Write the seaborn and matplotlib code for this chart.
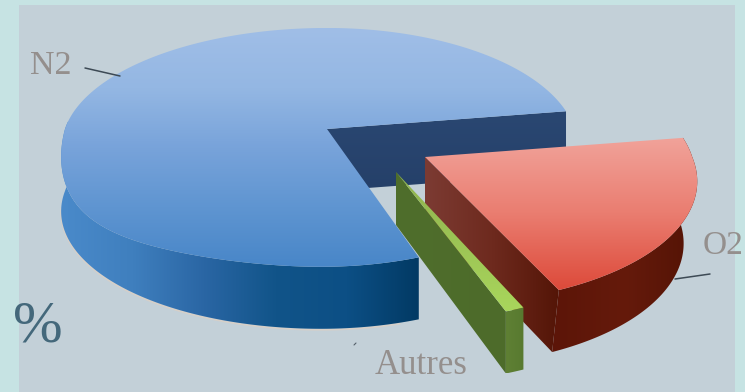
import numpy as np
import matplotlib
matplotlib.use("Agg")
import matplotlib.pyplot as plt
from matplotlib.patches import Polygon, Rectangle
import seaborn as sns

# Composition of air, in percent
gases = ["N2", "O2", "Autres"]
shares = [78, 21, 1]

sns.set_theme(style="white")
plt.rcParams["font.family"] = ["Liberation Serif", "DejaVu Serif"]

W, H = 745, 392
START = -9.0
RX, RY, TILT = 262.0, 116.0, 0.148
DEPTH = 62

# Per-slice drawing style: apex in pixels, radius scales, near-side lean,
# sag of the front-left edge, width of the lower edge, depth at the apex, colour ramps
STYLE = {
    "N2": dict(apex=(327, 129), left=1.0, right=0.945, far=1.0, near=1.012, lean=-6,
               sag=46, base=1.0, apex_depth=62,
               top=["#a0bee7", "#94b7e3", "#78a3da", "#5f95d1", "#4886c8"],
               rim=["#4a8aca", "#3f7fbe", "#2a66a4", "#115489", "#0c4f85", "#023a64"],
               wall=["#2a4772", "#254069"]),
    "O2": dict(apex=(425, 157), left=1.02, right=1.02, far=1.08, near=1.08, lean=12,
               sag=0, base=0.95, apex_depth=62,
               top=["#f1a39a", "#ea7d70", "#dd4a3a"],
               rim=["#531305", "#651a0b", "#5c1508"],
               wall=["#7c3b33", "#6e2a1e", "#541507"]),
    "Autres": dict(apex=(396, 172), left=1.02, right=1.02, far=1.1, near=1.1, lean=5,
                   sag=0, base=1.0, apex_depth=53,
                   top=["#8fb24e", "#a9d65c"],
                   rim=["#5f8034", "#587a30"],
                   wall=["#4f6e2c", "#4d6b2a"]),
}


def project(deg, st, drop=0.0):
    """Map disc angles to pixels with a simple perspective toward the viewer.

    A non-zero drop gives the lower edge of the slice, which is narrower and
    does not sag the way the top edge does.
    """
    t = np.radians(np.atleast_1d(deg))
    u, v = np.cos(t), np.sin(t)
    w = 1 - TILT * v
    x_scale = np.where(u < 0, st["left"], st["right"])
    y_scale = np.where(v < 0, st["far"], st["near"])
    x = x_scale * RX * u / w + st["lean"] * np.clip(v, 0, None)
    y = y_scale * RY * v / w + drop
    if drop:
        x = x * st["base"]
    else:
        y = y + st["sag"] * np.clip(-u, 0, None) ** 3 * np.clip(v, 0, None)
    return np.column_stack([x + st["apex"][0], y + st["apex"][1]])


def paint(ax, pts, colors, vertical, z):
    """Fill a polygon with a linear colour ramp."""
    pts = np.asarray(pts)
    x0, y0 = pts.min(axis=0)
    x1, y1 = pts.max(axis=0)
    ramp = np.linspace(0, 1, 256)
    ramp = ramp[:, None] if vertical else ramp[None, :]
    cmap = sns.blend_palette(colors, as_cmap=True)
    im = ax.imshow(ramp, cmap=cmap, extent=(x0, x1, y1, y0), origin="upper",
                   aspect="auto", zorder=z, interpolation="bilinear")
    clip = Polygon(pts, closed=True, transform=ax.transData)
    im.set_clip_path(clip)


def cut_wall(st, deg):
    """Corners of the flat face running from the apex out to the rim."""
    apex = np.array(st["apex"], float)
    return [apex, project(deg, st)[0], project(deg, st, DEPTH)[0], apex + [0, st["apex_depth"]]]


fig = plt.figure(figsize=(W / 100, H / 100), dpi=100, facecolor="#c6e3e3")
ax = fig.add_axes([0, 0, 1, 1])
ax.axis("off")
ax.add_patch(Rectangle((18.5, 5), 716.5, H, facecolor="#c3d0d8", edgecolor="none", zorder=0))

# Slice angles follow the shares, clockwise on screen from the O2 edge
spans = {}
angle = START
for name in ["O2", "Autres", "N2"]:
    sweep = shares[gases.index(name)] * 3.6
    spans[name] = (angle, angle + sweep)
    angle += sweep

# N2: inner cut wall, front rim, then the top face
st = STYLE["N2"]
a0, a1 = spans["N2"]
apex = np.array(st["apex"], float)
paint(ax, cut_wall(st, a1), st["wall"], True, 1)
front = np.linspace(a0, 184, 160)
# A faint warm edge under the rim
halo = project(np.linspace(a0 + 4, 172, 120), st, DEPTH + 1)
ax.plot(halo[:, 0], halo[:, 1], color="#d6cfc8", lw=1.2, zorder=1.5)
paint(ax, np.vstack([project(front, st), project(front[::-1], st, DEPTH)]), st["rim"], False, 2)
arc = np.linspace(a0, a1, 400)
paint(ax, np.vstack([apex, project(arc, st)]), st["top"], True, 3)

# O2: cut wall facing the viewer, rim, top face
st = STYLE["O2"]
a0, a1 = spans["O2"]
apex = np.array(st["apex"], float)
paint(ax, cut_wall(st, a1), st["wall"], False, 4)
arc = np.linspace(a0, a1, 120)
paint(ax, np.vstack([project(arc, st), project(arc[::-1], st, DEPTH)]), st["rim"][::-1], False, 5)
paint(ax, np.vstack([apex, project(arc, st)]), st["top"], True, 6)

# Autres: thin sliver in front of the others
st = STYLE["Autres"]
a0, a1 = spans["Autres"]
apex = np.array(st["apex"], float)
paint(ax, cut_wall(st, a1), st["wall"], False, 7)
arc = np.linspace(a0, a1, 20)
paint(ax, np.vstack([project(arc, st), project(arc[::-1], st, DEPTH)]), st["rim"], False, 8)
paint(ax, np.vstack([apex, project(arc, st)]), st["top"], True, 9)

# Labels and leader lines
grey = "#948f8d"
ax.text(30, 66, gases[0], color=grey, fontsize=24.5, va="center", ha="left", zorder=10)
ax.text(703, 246, gases[1], color=grey, fontsize=24, va="center", ha="left", zorder=10)
ax.text(375, 366, gases[2], color=grey, fontsize=25, va="center", ha="left", zorder=10)
ax.plot([85, 120], [68, 76], color="#3d4a55", lw=1.1, zorder=10)
ax.plot([710, 675], [274, 279], color="#3d4a55", lw=1.1, zorder=10)
ax.plot([354, 356], [345, 343], color="#55606a", lw=0.8, zorder=10)
ax.text(13, 328, "%", color="#44687b", fontsize=43, va="center", ha="left", zorder=10)

ax.set_xlim(0, W)
ax.set_ylim(H, 0)
fig.savefig("out.png", dpi=100, facecolor=fig.get_facecolor())
